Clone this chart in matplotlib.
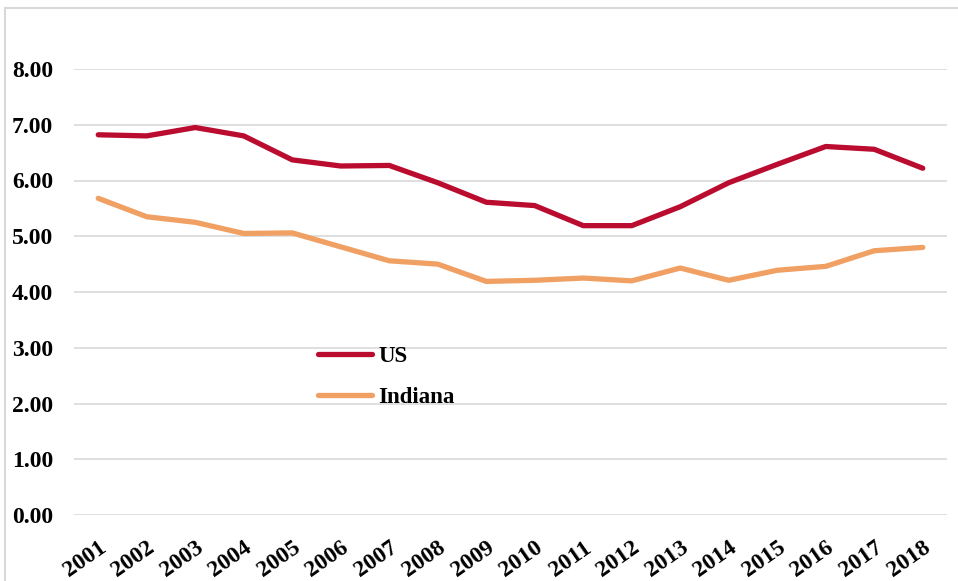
import matplotlib.pyplot as plt
from matplotlib.patches import Rectangle

# valores
years = ['2001', '2002', '2003', '2004', '2005', '2006', '2007', '2008', '2009',
         '2010', '2011', '2012', '2013', '2014', '2015', '2016', '2017', '2018']
us = [6.82, 6.80, 6.95, 6.80, 6.37, 6.26, 6.27, 5.96, 5.61,
      5.55, 5.19, 5.19, 5.53, 5.96, 6.29, 6.61, 6.56, 6.22]
indiana = [5.68, 5.35, 5.25, 5.05, 5.06, 4.81, 4.56, 4.50, 4.19,
           4.21, 4.25, 4.20, 4.43, 4.21, 4.39, 4.46, 4.74, 4.80]
yticks = [0, 1, 2, 3, 4, 5, 6, 7, 8]

plt.rcParams['font.family'] = ['Liberation Serif', 'DejaVu Serif']
plt.rcParams['font.weight'] = 'bold'

fig = plt.figure(figsize=(9.58, 5.81), dpi=100)
W, H = 958, 581
ax = fig.add_axes([74 / W, 1 - 515 / H, (947 - 74) / W, (515 - 69) / H])

# marco del grafico (estilo excel), solo borde izquierdo y superior visibles
fig.patches.append(Rectangle((5 / W, -0.1), 1.2, 1.1 - 8 / H, transform=fig.transFigure,
                             fill=False, edgecolor='#D9D9D9', linewidth=1.5))

x = list(range(len(years)))
ax.plot(x, us, color='#BA0C2F', linewidth=3.8, solid_capstyle='round', label='US')
ax.plot(x, indiana, color='#F0A062', linewidth=3.8, solid_capstyle='round', label='Indiana')

ax.set_xlim(-0.5, len(years) - 0.5)
ax.set_ylim(0, 8)
ax.set_yticks(yticks)
ax.set_yticklabels(['%.2f' % v for v in yticks])
ax.set_xticks(x)
ax.set_xticklabels(years, rotation=35, ha='right', rotation_mode='anchor')
ax.tick_params(length=0, labelsize=17)
ax.tick_params(axis='x', pad=16)
ax.tick_params(axis='y', pad=15)
ax.grid(axis='y', color='#D9D9D9', linewidth=1.2)
ax.set_axisbelow(True)
for s in ax.spines.values():
    s.set_visible(False)

leg = ax.legend(loc='upper left', bbox_to_anchor=(0.2795, 0.38), frameon=False,
                fontsize=16.5, handlelength=2.35, handletextpad=0.28, labelspacing=0.89,
                borderpad=0, borderaxespad=0)

plt.savefig('out.png', dpi=100)
